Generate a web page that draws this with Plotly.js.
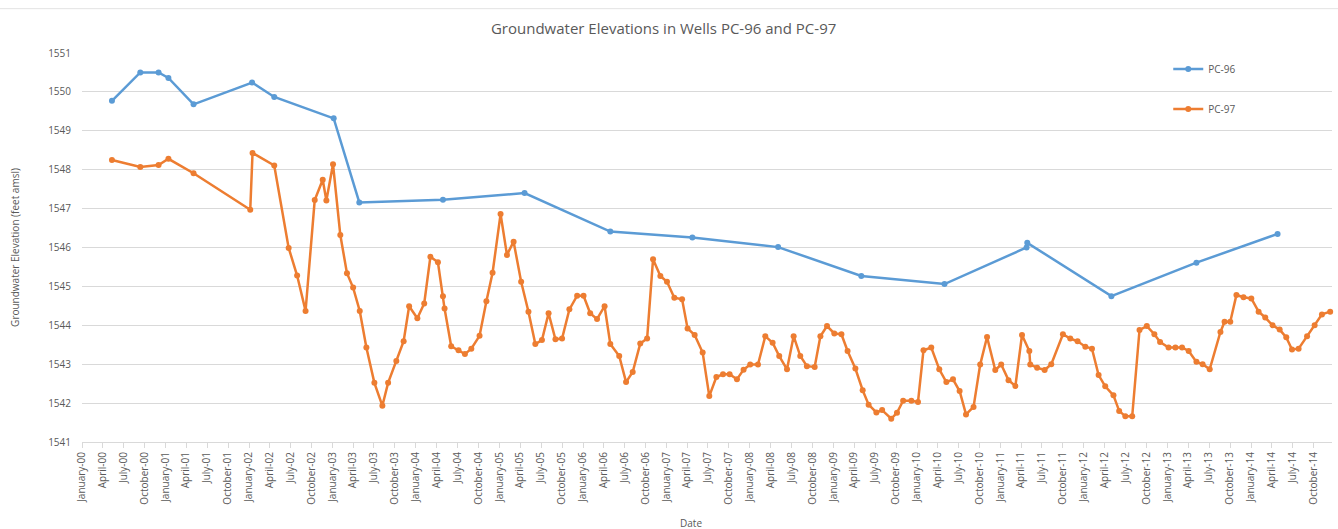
<!DOCTYPE html>
<html>
<head>
<meta charset="utf-8">
<script src="https://cdn.plot.ly/plotly-3.0.1.min.js"></script>
<style>
html,body{margin:0;padding:0;background:#fff;}
#chart{width:1338px;height:529px;}
</style>
</head>
<body>
<div id="chart"></div>
<script>
// ---- Data ----
const chartTitle = "Groundwater Elevations in Wells PC-96 and PC-97";
const xTitle = "Date";
const yTitle = "Groundwater Elevation (feet amsl)";
const seriesNames = ["PC-96", "PC-97"];

const pc96Dates = [
  "2000-05-11","2000-09-12","2000-12-01","2001-01-13","2001-05-03",
  "2002-01-14","2002-04-21","2003-01-06","2003-04-28","2004-04-28",
  "2005-04-20","2006-04-30","2007-04-24","2008-05-03","2009-05-02",
  "2010-05-01","2011-04-25","2011-04-28","2012-04-30","2013-05-07",
  "2014-04-27"
];
const pc96Values = [
  1549.77,1550.50,1550.50,1550.36,1549.68,
  1550.24,1549.87,1549.32,1547.16,1547.23,
  1547.40,1546.41,1546.26,1546.01,1545.27,
  1545.06,1546.00,1546.12,1544.75,1545.61,
  1546.35
];

const pc97Dates = [
  "2000-05-11","2000-09-12","2000-12-01","2001-01-13","2001-05-03",
  "2002-01-06","2002-01-16","2002-04-21","2002-06-23","2002-07-30",
  "2002-09-05","2002-10-15","2002-11-19","2002-12-05","2003-01-03",
  "2003-02-04","2003-03-05","2003-04-01","2003-04-30","2003-05-29",
  "2003-07-03","2003-08-07","2003-09-01","2003-10-07","2003-11-08",
  "2003-12-02","2004-01-07","2004-02-06","2004-03-04","2004-04-06",
  "2004-04-28","2004-05-05","2004-06-03","2004-07-05","2004-08-02",
  "2004-08-30","2004-10-05","2004-11-04","2004-12-01","2005-01-05",
  "2005-02-02","2005-03-03","2005-04-05","2005-05-07","2005-06-06",
  "2005-07-05","2005-08-03","2005-09-02","2005-10-01","2005-11-02",
  "2005-12-06","2006-01-03","2006-02-01","2006-03-03","2006-04-05",
  "2006-04-30","2006-06-08","2006-07-08","2006-08-06","2006-09-08",
  "2006-10-08","2006-11-03","2006-12-05","2007-01-03","2007-02-04",
  "2007-03-10","2007-04-03","2007-05-04","2007-06-08","2007-07-07",
  "2007-08-07","2007-09-05","2007-10-04","2007-11-05","2007-12-04",
  "2008-01-02","2008-02-05","2008-03-08","2008-04-09","2008-05-08",
  "2008-06-11","2008-07-10","2008-08-08","2008-09-06","2008-10-10",
  "2008-11-04","2008-12-03","2009-01-04","2009-02-04","2009-03-03",
  "2009-04-06","2009-05-08","2009-06-03","2009-07-07","2009-08-01",
  "2009-09-10","2009-10-05","2009-11-01","2009-12-07","2010-01-05",
  "2010-01-29","2010-03-04","2010-04-08","2010-05-09","2010-06-07",
  "2010-07-06","2010-08-03","2010-09-05","2010-10-04","2010-11-03",
  "2010-12-09","2011-01-04","2011-02-05","2011-03-07","2011-04-05",
  "2011-05-07","2011-05-11","2011-06-10","2011-07-13","2011-08-11",
  "2011-10-01","2011-11-02","2011-12-04","2012-01-07","2012-02-05",
  "2012-03-05","2012-04-03","2012-05-09","2012-06-03","2012-06-30",
  "2012-07-30","2012-08-31","2012-10-02","2012-11-04","2012-11-29",
  "2013-01-05","2013-02-04","2013-03-05","2013-04-03","2013-05-07",
  "2013-06-03","2013-07-04","2013-08-20","2013-09-07","2013-10-02",
  "2013-10-29","2013-11-29","2014-01-02","2014-02-03","2014-03-04",
  "2014-04-05","2014-05-06","2014-06-04","2014-06-29","2014-07-28",
  "2014-09-03","2014-10-06","2014-11-07","2014-12-13"
];
const pc97Values = [
  1548.25,1548.07,1548.12,1548.28,1547.91,
  1546.97,1548.43,1548.11,1545.99,1545.28,
  1544.37,1547.22,1547.74,1547.21,1548.14,
  1546.32,1545.34,1544.97,1544.37,1543.43,
  1542.52,1541.93,1542.52,1543.08,1543.59,
  1544.49,1544.18,1544.56,1545.76,1545.62,
  1544.75,1544.43,1543.46,1543.36,1543.26,
  1543.40,1543.73,1544.62,1545.35,1546.86,
  1545.81,1546.15,1545.12,1544.35,1543.52,
  1543.62,1544.31,1543.64,1543.66,1544.41,
  1544.76,1544.76,1544.31,1544.16,1544.49,
  1543.52,1543.21,1542.54,1542.80,1543.53,
  1543.66,1545.70,1545.27,1545.12,1544.71,
  1544.67,1543.92,1543.75,1543.30,1542.18,
  1542.67,1542.74,1542.74,1542.61,1542.86,
  1542.99,1542.99,1543.72,1543.55,1543.21,
  1542.87,1543.72,1543.21,1542.95,1542.93,
  1543.72,1543.98,1543.79,1543.77,1543.34,
  1542.89,1542.33,1541.96,1541.76,1541.82,
  1541.60,1541.75,1542.06,1542.06,1542.03,
  1543.36,1543.43,1542.87,1542.54,1542.61,
  1542.31,1541.71,1541.90,1542.99,1543.70,
  1542.85,1542.99,1542.59,1542.44,1543.75,
  1543.34,1542.99,1542.91,1542.85,1543.00,
  1543.77,1543.66,1543.59,1543.45,1543.40,
  1542.72,1542.43,1542.20,1541.80,1541.66,
  1541.66,1543.88,1543.98,1543.77,1543.57,
  1543.43,1543.43,1543.43,1543.34,1543.06,
  1543.00,1542.87,1543.83,1544.09,1544.09,
  1544.78,1544.72,1544.69,1544.35,1544.20,
  1544.00,1543.89,1543.69,1543.38,1543.40,
  1543.72,1544.00,1544.28,1544.35
];

const colors = ["#5B9BD5", "#ED7D31"];
const textColor = "#595959";
const gridColor = "#d9d9d9";
const fontFamily = "'Open Sans', 'Noto Sans', sans-serif";

const traces = [
  {
    x: pc96Dates, y: pc96Values, name: seriesNames[0],
    type: "scatter", mode: "lines+markers",
    line: {color: colors[0], width: 2.5},
    marker: {color: colors[0], size: 6},
    cliponaxis: false, legendgroup: "a"
  },
  {
    x: pc97Dates, y: pc97Values, name: seriesNames[1],
    type: "scatter", mode: "lines+markers",
    line: {color: colors[1], width: 2.5},
    marker: {color: colors[1], size: 6},
    cliponaxis: false, legendgroup: "b"
  }
];

const layout = {
  width: 1338, height: 529,
  margin: {l: 82, r: 6, t: 53, b: 87, pad: 0},
  paper_bgcolor: "#ffffff", plot_bgcolor: "#ffffff",
  font: {family: fontFamily, size: 10, color: textColor},
  title: {
    text: chartTitle,
    font: {family: fontFamily, size: 15, color: textColor},
    x: 0.496, xref: "container", xanchor: "center",
    y: 0.945, yref: "container", yanchor: "middle"
  },
  xaxis: {
    type: "date",
    range: ["2000-01-01", "2014-12-21"],
    tick0: "2000-01-01", dtick: "M3",
    tickformat: "%B-%y",
    tickangle: -90,
    tickfont: {size: 10, color: textColor},
    showgrid: false, zeroline: false,
    showline: true, linecolor: gridColor, linewidth: 1,
    ticks: "outside", ticklen: 5, tickcolor: gridColor,
    automargin: false
  },
  yaxis: {
    range: [1541, 1551], dtick: 1, tick0: 1541,
    tickfont: {size: 10, color: textColor},
    showgrid: true, gridcolor: gridColor, gridwidth: 1,
    zeroline: false, showline: false, ticks: "",
    ticklabelstandoff: 10,
    title: {text: yTitle, font: {size: 10, color: textColor}, standoff: 26},
    automargin: false
  },
  legend: {
    x: 0.869, xanchor: "left", y: 0.996, yanchor: "top",
    font: {size: 10, color: textColor},
    bgcolor: "rgba(0,0,0,0)",
    traceorder: "grouped", tracegroupgap: 21,
    itemwidth: 30
  },
  annotations: [
    {
      text: xTitle, xref: "paper", yref: "paper",
      x: 0.487, y: -0.209, xanchor: "center", yanchor: "middle",
      showarrow: false, font: {size: 10, color: textColor}
    }
  ],
  shapes: [
    {
      type: "line", xref: "paper", yref: "paper",
      x0: -0.066, x1: 1.005, y0: 1.114, y1: 1.114,
      line: {color: "#e3e3e3", width: 1}
    }
  ],
  showlegend: true
};

Plotly.newPlot("chart", traces, layout, {displayModeBar: false, staticPlot: true});
</script>
</body>
</html>
